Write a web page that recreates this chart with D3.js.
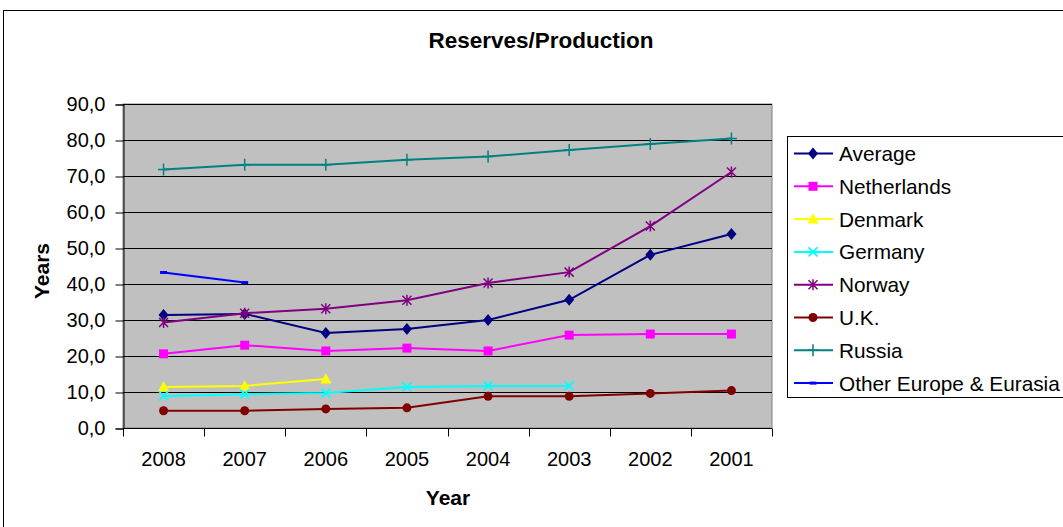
<!DOCTYPE html>
<html>
<head>
<meta charset="utf-8">
<script src="https://cdn.jsdelivr.net/npm/d3@7"></script>
<style>
  body { margin: 0; background: #fff; }
  text { font-family: "Liberation Sans", Arial, sans-serif; }
</style>
</head>
<body>
<div id="viz-container"></div>
<script>
// data
let years = ["2008", "2007", "2006", "2005", "2004", "2003", "2002", "2001"];
let average = [31.4, 31.7, 26.4, 27.5, 30.0, 35.6, 48.1, 53.9];
let netherlands = [20.6, 23.0, 21.4, 22.2, 21.4, 25.8, 26.1, 26.1];
let denmark = [11.4, 11.7, 13.6, null, null, null, null, null];
let germany = [8.9, 9.4, 9.7, 11.4, 11.7, 11.7, null, null];
let norway = [29.3, 31.9, 33.1, 35.5, 40.3, 43.3, 56.1, 71.1];
let uk = [4.8, 4.8, 5.3, 5.6, 8.8, 8.8, 9.6, 10.4];
let russia = [71.8, 73.1, 73.1, 74.5, 75.4, 77.2, 78.9, 80.4];
let otherEurope = [43.2, 40.4, null, null, null, null, null, null];
let yTicks = [0, 10, 20, 30, 40, 50, 60, 70, 80, 90];

let series = [
  {name: "Average", values: average, color: "#000080", marker: "diamond"},
  {name: "Netherlands", values: netherlands, color: "#ff00ff", marker: "square"},
  {name: "Denmark", values: denmark, color: "#ffff00", marker: "triangle"},
  {name: "Germany", values: germany, color: "#00ffff", marker: "x"},
  {name: "Norway", values: norway, color: "#800080", marker: "star"},
  {name: "U.K.", values: uk, color: "#800000", marker: "circle"},
  {name: "Russia", values: russia, color: "#008080", marker: "plus"},
  {name: "Other Europe & Eurasia", values: otherEurope, color: "#0000ff", marker: "dash"}
];

let W = 1063, H = 527;
let plot = {left: 123, top: 104, right: 772, bottom: 428};

let viz = d3.select("#viz-container")
  .append("svg")
  .attr("width", W)
  .attr("height", H);

// outer chart frame
viz.append("rect")
  .attr("x", 3.5).attr("y", 10.5)
  .attr("width", W + 10).attr("height", H + 10)
  .attr("fill", "#fff").attr("stroke", "#000");

viz.append("text")
  .attr("x", 541).attr("y", 48)
  .attr("text-anchor", "middle")
  .style("font-size", "22.5px").style("font-weight", "bold")
  .text("Reserves/Production");

let x = d3.scaleBand().domain(years).range([plot.left, plot.right]).padding(0);
let y = d3.scaleLinear().domain([0, 90]).range([plot.bottom, plot.top]);

// plot background
viz.append("rect")
  .attr("x", plot.left).attr("y", plot.top)
  .attr("width", plot.right - plot.left).attr("height", plot.bottom - plot.top)
  .attr("fill", "#c0c0c0").attr("stroke", "#808080");

// gridlines
viz.selectAll(".grid").data(yTicks.filter(d => d > 0)).enter().append("line")
  .attr("x1", plot.left).attr("x2", plot.right)
  .attr("y1", d => Math.round(y(d)) + 0.5).attr("y2", d => Math.round(y(d)) + 0.5)
  .attr("stroke", "#000").attr("stroke-width", 1);

// y axis
let yAxis = viz.append("g")
  .attr("transform", "translate(" + (plot.left + 0.5) + ",0.5)")
  .call(d3.axisLeft(y).tickValues(yTicks).tickSize(8).tickPadding(10)
    .tickFormat(d => d.toFixed(1).replace(".", ",")));
yAxis.selectAll("text").style("font-size", "20px").attr("fill", "#000")
  .attr("font-family", null);
yAxis.selectAll("line, path").attr("stroke", "#000");

// x axis: labels centred, tick marks at category boundaries
let xAxis = viz.append("g")
  .attr("transform", "translate(0," + (plot.bottom + 0.5) + ")")
  .call(d3.axisBottom(x).tickSize(0).tickPadding(23));
xAxis.select("path").attr("stroke", "#000").attr("d", "M" + plot.left + ",0H" + plot.right);
xAxis.selectAll("text").style("font-size", "20px").attr("fill", "#000")
  .attr("font-family", null);
let bounds = years.map(d => x(d)).concat([plot.right]);
xAxis.selectAll(".bt").data(bounds).enter().append("line")
  .attr("x1", d => Math.round(d) + 0.5).attr("x2", d => Math.round(d) + 0.5)
  .attr("y1", 0).attr("y2", 8)
  .attr("stroke", "#000");

// axis titles
viz.append("text")
  .attr("transform", "translate(49,271) rotate(-90)")
  .attr("text-anchor", "middle")
  .style("font-size", "21px").style("font-weight", "bold")
  .text("Years");
viz.append("text")
  .attr("x", 448).attr("y", 505)
  .attr("text-anchor", "middle")
  .style("font-size", "21px").style("font-weight", "bold")
  .text("Year");

function drawMarker(g, kind, color) {
  if (kind == "diamond") {
    g.append("path").attr("d", "M0,-6L5,0L0,6L-5,0Z").attr("fill", color);
  } else if (kind == "square") {
    g.append("rect").attr("x", -4.5).attr("y", -4.5).attr("width", 9).attr("height", 9).attr("fill", color);
  } else if (kind == "triangle") {
    g.append("path").attr("d", "M0,-6L5.5,4.5L-5.5,4.5Z").attr("fill", color);
  } else if (kind == "x") {
    g.append("path").attr("d", "M-4.5,-4.5L4.5,4.5M-4.5,4.5L4.5,-4.5")
      .attr("stroke", color).attr("stroke-width", 1.8).attr("fill", "none");
  } else if (kind == "star") {
    g.append("path").attr("d", "M-4.5,-4.5L4.5,4.5M-4.5,4.5L4.5,-4.5M0,-5.5L0,5.5")
      .attr("stroke", color).attr("stroke-width", 1.5).attr("fill", "none");
  } else if (kind == "circle") {
    g.append("circle").attr("r", 4.5).attr("fill", color);
  } else if (kind == "plus") {
    g.append("path").attr("d", "M-5.5,0L5.5,0M0,-6L0,6")
      .attr("stroke", color).attr("stroke-width", 1.5).attr("fill", "none");
  } else if (kind == "dash") {
    g.append("rect").attr("x", -3.5).attr("y", -1.5).attr("width", 7).attr("height", 3).attr("fill", color);
  }
}

let line = d3.line()
  .defined(d => d.v != null)
  .x(d => x(d.year) + x.bandwidth() / 2)
  .y(d => y(d.v));

series.forEach(s => {
  let pts = years.map((yr, i) => ({year: yr, v: s.values[i]}));
  viz.append("path")
    .datum(pts)
    .attr("d", line)
    .attr("fill", "none")
    .attr("stroke", s.color)
    .attr("stroke-width", 2);
  viz.selectAll(null).data(pts.filter(d => d.v != null)).enter().append("g")
    .attr("transform", d => "translate(" + (x(d.year) + x.bandwidth() / 2) + "," + y(d.v) + ")")
    .each(function () { drawMarker(d3.select(this), s.marker, s.color); });
});

// legend
let legend = viz.append("g");
legend.append("rect")
  .attr("x", 787.5).attr("y", 136.5)
  .attr("width", 300).attr("height", 261)
  .attr("fill", "#fff").attr("stroke", "#000");
series.forEach((s, i) => {
  let ly = 153.5 + i * 32.8;
  legend.append("line")
    .attr("x1", 794).attr("x2", 833).attr("y1", ly).attr("y2", ly)
    .attr("stroke", s.color).attr("stroke-width", 2);
  let m = legend.append("g").attr("transform", "translate(813," + ly + ")");
  drawMarker(m, s.marker, s.color);
  legend.append("text")
    .attr("x", 839).attr("y", ly + 7.5)
    .style("font-size", "20.8px")
    .text(s.name);
});
</script>
</body>
</html>
